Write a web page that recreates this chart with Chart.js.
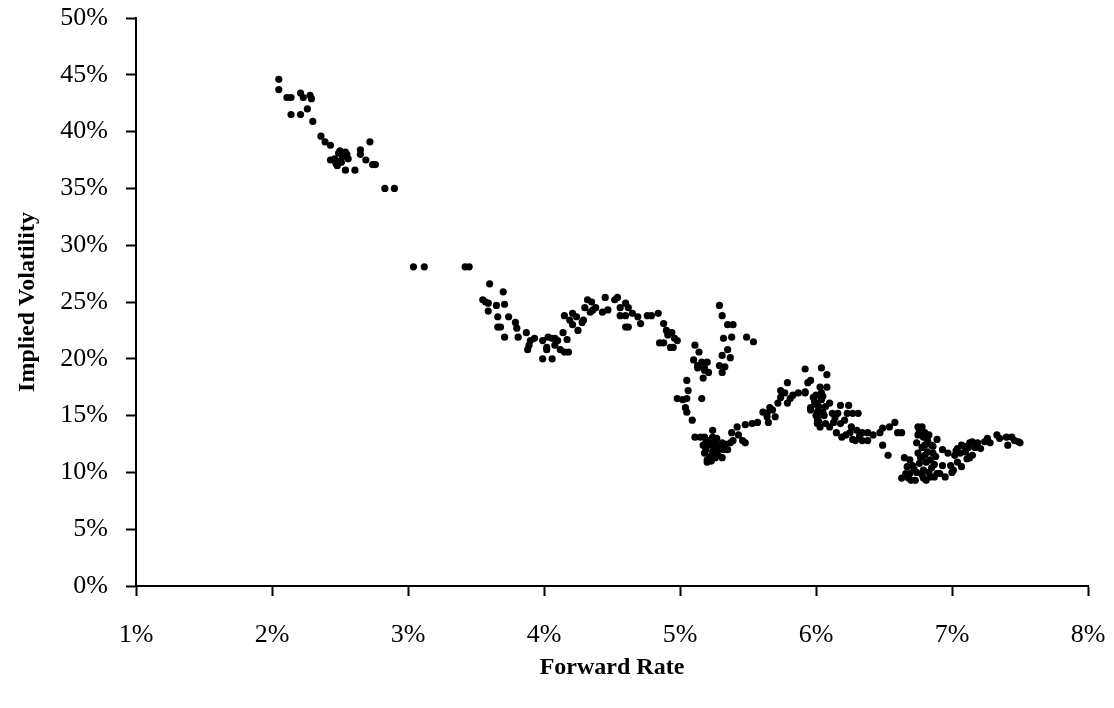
<!DOCTYPE html>
<html>
<head>
<meta charset="utf-8">
<title>Implied Volatility vs Forward Rate</title>
<script src="https://cdn.jsdelivr.net/npm/chart.js@4/dist/chart.umd.min.js"></script>
<style>
  html, body { margin: 0; padding: 0; background: #ffffff; }
  #wrap { width: 1114px; height: 708px; }
</style>
</head>
<body>
<div id="wrap"><canvas id="chart" width="1114" height="708"></canvas></div>
<script>
// Forward rate (%) for each observation
const forwardRate = [
  2.05, 2.05, 2.11, 2.14, 2.21, 2.23, 2.28, 2.29, 2.26, 2.14,
  2.21, 2.30, 2.36, 2.39, 2.43, 2.50, 2.54, 2.65, 2.72, 2.43,
  2.48, 2.51, 2.56, 2.54, 2.61, 2.65, 2.69, 2.74, 2.52, 2.47,
  2.76, 2.83, 2.90, 2.46, 2.49, 2.53, 2.50, 2.55,
  3.04, 3.12, 3.42, 3.45,
  3.60, 3.70, 3.55, 3.59, 3.57, 3.65, 3.71, 3.59, 3.66, 3.74,
  3.68, 3.66, 3.79, 3.80, 3.71, 3.81, 3.87, 3.90, 3.93, 3.88,
  3.89, 4.03, 4.08, 4.02, 3.99, 4.06, 4.14, 4.17, 4.12, 4.18,
  4.15, 3.99, 4.06, 4.10, 4.08, 4.02,
  4.15, 4.19, 4.21, 4.24, 4.25, 4.29, 4.28, 4.21, 4.30, 4.34,
  4.35, 4.38, 4.32, 4.36, 4.43, 4.45, 4.47, 4.54, 4.52, 4.56,
  4.60, 4.62, 4.56, 4.60, 4.60, 4.62, 4.65, 4.69, 4.71, 4.76,
  4.79, 4.84, 4.88, 4.90, 4.91, 4.94, 4.96, 4.98, 4.85, 4.88,
  4.93, 4.95,
  5.11, 5.14, 5.10, 5.13, 5.20, 5.16, 5.18, 5.13, 5.18, 5.21,
  5.17, 5.05, 5.06, 4.98, 5.02, 5.05, 5.16, 5.04, 5.05, 5.09,
  5.29, 5.31, 5.35, 5.39, 5.32, 5.38, 5.49, 5.54, 5.35, 5.37,
  5.31, 5.29, 5.33, 5.31,
  5.11, 5.15, 5.18, 5.24, 5.24, 5.17, 5.21, 5.26, 5.31, 5.18,
  5.24, 5.28, 5.32, 5.20, 5.26, 5.31, 5.35, 5.37, 5.38, 5.42,
  5.43, 5.46, 5.48, 5.39, 5.48, 5.53, 5.57, 5.61, 5.64, 5.65,
  5.66, 5.68, 5.72, 5.74, 5.77, 5.79, 5.81, 5.83, 5.87, 5.92,
  5.96, 6.01, 6.01, 6.01, 5.20, 5.64, 5.70, 5.79, 5.74, 5.96,
  5.19, 5.22, 5.25, 5.28, 5.22, 5.30, 5.33, 5.27, 5.19, 5.23,
  5.92, 6.04, 6.08, 5.94, 5.92, 6.03, 6.08, 6.04, 5.99, 6.04,
  6.10, 6.18, 6.24, 5.96, 6.01, 6.05, 6.12, 6.16, 6.23, 6.27,
  6.31, 6.01, 6.07, 6.13, 6.18, 6.03, 6.10, 6.15, 6.19, 6.25,
  6.30, 6.34, 6.38, 6.29, 6.34, 6.38, 6.42, 6.47, 6.49, 6.54,
  6.58, 6.60, 6.63, 6.49, 6.53,
  6.00, 6.02, 6.06, 6.02, 6.05, 6.00, 6.07, 5.98,
  6.14, 6.21, 6.26, 6.22, 6.32, 6.27,
  6.75, 6.75, 6.79, 6.74, 6.78, 6.82, 6.75, 6.80, 6.82, 6.84,
  6.86, 6.65, 6.69, 6.67, 6.71, 6.76, 6.69, 6.74, 6.79, 6.63,
  6.68, 6.73, 6.79, 6.84, 6.85, 6.89, 6.93, 6.97, 6.93, 6.91,
  6.95, 7.00, 6.99, 6.78, 6.80, 6.82, 6.85,
  6.77, 6.81, 6.83, 6.87, 6.88, 6.72, 6.78, 6.66, 6.70, 6.86,
  6.80, 6.76, 6.83, 6.89, 6.87, 6.81,
  7.04, 7.07, 7.10, 7.13, 7.15, 7.15, 7.02, 7.06, 7.04, 7.07,
  7.01, 7.12, 7.13, 7.17, 7.21, 7.19, 7.24, 7.26, 7.28, 7.33,
  7.35, 7.40, 7.41, 7.46, 7.49, 7.50, 7.44, 7.09, 7.11, 7.03
];

// Implied volatility (%) for the same observations
const impliedVol = [
  44.6, 43.7, 43.0, 43.0, 43.4, 43.0, 43.2, 42.9, 42.0, 41.5,
  41.5, 40.9, 39.6, 39.1, 38.8, 38.3, 38.2, 38.4, 39.1, 37.5,
  37.0, 37.3, 37.6, 36.6, 36.6, 38.0, 37.5, 37.1, 37.8, 37.2,
  37.1, 35.0, 35.0, 37.6, 38.1, 37.9, 37.4, 38.0,
  28.1, 28.1, 28.1, 28.1,
  26.6, 25.9, 25.2, 24.9, 25.0, 24.7, 24.8, 24.2, 23.7, 23.7,
  22.8, 22.8, 23.2, 22.7, 21.9, 21.9, 22.3, 21.6, 21.8, 20.8,
  21.2, 21.9, 21.8, 21.0, 20.0, 20.0, 22.3, 21.7, 20.8, 20.6,
  20.6, 21.6, 21.8, 21.6, 21.2, 20.8,
  23.8, 23.4, 23.0, 23.7, 22.5, 23.4, 23.2, 24.0, 24.5, 24.1,
  25.0, 24.5, 25.2, 24.3, 24.1, 25.4, 24.3, 25.4, 25.2, 24.5,
  24.9, 24.5, 23.8, 23.8, 22.8, 22.8, 24.0, 23.7, 23.1, 23.8,
  23.8, 24.0, 23.1, 22.5, 22.1, 22.3, 21.8, 21.6, 21.4, 21.4,
  21.0, 21.0,
  21.2, 20.6, 19.9, 19.4, 19.7, 19.7, 19.2, 19.2, 19.0, 18.8,
  18.3, 18.1, 17.2, 16.5, 16.4, 16.5, 16.5, 15.7, 15.3, 14.6,
  24.7, 23.8, 23.0, 23.0, 21.8, 21.9, 21.9, 21.5, 20.8, 20.1,
  20.3, 19.4, 19.3, 18.8,
  13.1, 13.1, 13.1, 13.7, 13.1, 12.4, 12.4, 12.6, 12.6, 11.7,
  11.8, 12.0, 12.0, 11.1, 11.3, 11.3, 12.0, 12.6, 13.5, 14.0,
  13.3, 12.8, 12.6, 12.8, 14.2, 14.3, 14.4, 15.3, 14.9, 14.4,
  15.7, 15.5, 16.1, 16.6, 17.0, 16.1, 16.5, 16.8, 17.0, 17.0,
  15.7, 15.9, 14.9, 14.3, 10.9, 15.2, 14.9, 17.9, 17.2, 18.1,
  12.0, 12.8, 12.2, 11.5, 11.4, 12.3, 12.5, 13.0, 12.6, 11.0,
  19.1, 19.2, 18.6, 17.9, 17.1, 17.5, 17.5, 17.0, 16.2, 16.4,
  16.1, 15.9, 15.9, 15.5, 15.3, 15.3, 15.2, 15.2, 15.2, 15.2,
  15.2, 14.6, 14.3, 14.4, 14.3, 14.0, 14.0, 13.5, 13.1, 13.5,
  13.7, 13.5, 13.5, 12.8, 12.8, 12.8, 13.3, 13.5, 13.9, 14.0,
  14.4, 13.5, 13.5, 12.4, 11.5,
  16.8, 15.8, 15.0, 14.5, 16.7, 15.0, 15.8, 16.6,
  14.8, 14.6, 14.0, 13.3, 13.2, 12.9,
  14.0, 13.3, 13.1, 12.6, 12.2, 12.6, 11.7, 11.5, 11.8, 11.1,
  11.7, 11.3, 11.1, 10.5, 10.6, 10.8, 9.9, 10.0, 10.2, 9.5,
  9.5, 9.3, 9.5, 9.6, 10.4, 9.9, 12.0, 11.7, 10.6, 9.9,
  9.6, 10.0, 10.6, 14.0, 13.5, 12.8, 12.4,
  11.3, 10.9, 10.0, 10.7, 11.4, 10.3, 9.8, 9.9, 9.3, 12.3,
  12.4, 13.6, 13.3, 12.9, 9.6, 9.3,
  12.1, 12.4, 11.8, 12.6, 11.5, 12.7, 11.5, 11.7, 10.9, 10.5,
  10.2, 12.2, 11.3, 12.2, 12.1, 12.6, 12.7, 13.0, 12.6, 13.3,
  13.0, 13.1, 12.4, 12.8, 12.7, 12.6, 13.1, 12.3, 11.2, 11.9
];

// Axis ranges and tick spacing (%)
const xRange = [1, 8];
const xStep = 1;
const yRange = [0, 50];
const yStep = 5;

const points = forwardRate.map((x, i) => ({ x: x, y: impliedVol[i] }));

const serif = "'Liberation Serif', 'Times New Roman', serif";
const tickFont = { family: serif, size: 26 };
const titleFont = { family: serif, size: 24, weight: 'bold' };

const axisLines = {
  grid: {
    display: true,
    drawOnChartArea: false,
    drawTicks: true,
    tickLength: 10,
    tickWidth: 2,
    tickColor: '#000000'
  },
  border: { display: true, color: '#000000', width: 2 }
};

new Chart(document.getElementById('chart'), {
  type: 'scatter',
  data: {
    datasets: [{
      label: 'Implied Volatility',
      data: points,
      backgroundColor: '#000000',
      borderColor: '#000000',
      borderWidth: 0,
      pointRadius: 3.6,
      pointHoverRadius: 3.6
    }]
  },
  options: {
    responsive: false,
    animation: false,
    layout: {
      padding: { left: 0, top: 18, right: 26, bottom: 0 }
    },
    plugins: {
      legend: { display: false },
      tooltip: { enabled: false }
    },
    scales: {
      x: {
        type: 'linear',
        min: xRange[0],
        max: xRange[1],
        ...axisLines,
        ticks: {
          stepSize: xStep,
          color: '#000000',
          font: tickFont,
          padding: 24,
          maxRotation: 0,
          callback: v => v + '%'
        },
        title: {
          display: true,
          text: 'Forward Rate',
          color: '#000000',
          font: titleFont,
          padding: { top: 0, bottom: 26 }
        },
        afterFit: s => {
          s.height = 122;
          s.paddingLeft = 0;
          s.paddingRight = 0;
        }
      },
      y: {
        type: 'linear',
        min: yRange[0],
        max: yRange[1],
        ...axisLines,
        ticks: {
          stepSize: yStep,
          color: '#000000',
          font: tickFont,
          padding: 18,
          callback: v => v + '%'
        },
        title: {
          display: true,
          text: 'Implied Volatility',
          color: '#000000',
          font: titleFont,
          padding: { top: 13, bottom: 0 }
        },
        afterFit: s => {
          s.width = 136;
          s.paddingTop = 0;
          s.paddingBottom = 0;
        }
      }
    }
  }
});
</script>
</body>
</html>
